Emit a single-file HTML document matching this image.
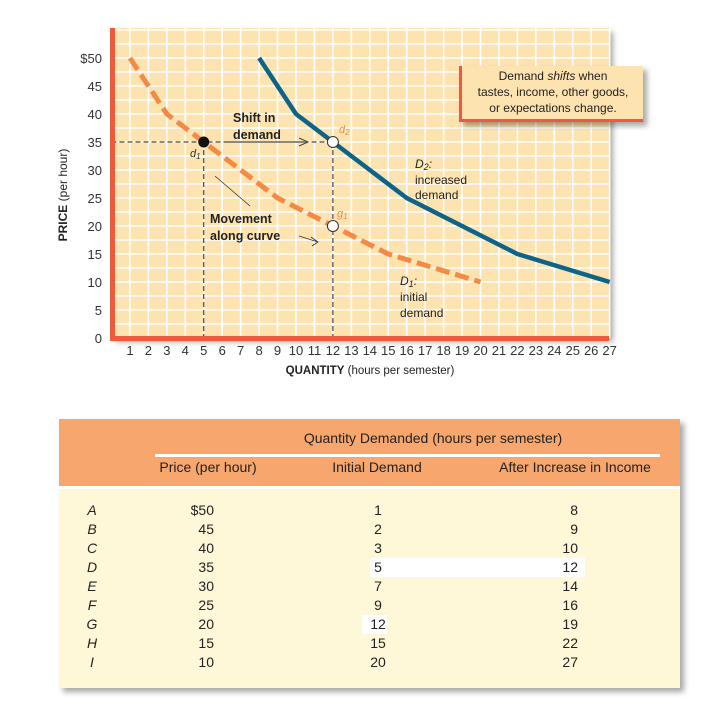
<!DOCTYPE html>
<html><head><meta charset="utf-8"><style>
body{margin:0;width:712px;height:704px;background:#fff;overflow:hidden;font-family:"Liberation Sans",sans-serif}
svg{position:absolute;left:0;top:0}
.t{font-family:"Liberation Sans Narrow","Liberation Sans",sans-serif;fill:#222;font-size:14px}
</style></head><body>
<svg width="712" height="704">
<defs><filter id="sh" x="-5%" y="-5%" width="115%" height="120%"><feDropShadow dx="4" dy="4" stdDeviation="3" flood-color="#000" flood-opacity="0.35"/></filter></defs>
<rect x="112" y="28" width="497" height="310" fill="#fde3b0" filter="url(#sh)"/>
<g id="grid"></g>
<g id="marks"></g>
<rect x="110" y="28" width="5" height="312" fill="#ef5a3c"/>
<rect x="110" y="336" width="499" height="5" fill="#ef5a3c"/>
<g id="ticks" font-size="13" fill="#333"></g>
<text x="62" y="190" transform="rotate(-90 67 190)" font-size="12" fill="#222" text-anchor="middle"><tspan font-weight="bold">PRICE</tspan> (per hour)</text>
<text x="370" y="374" font-size="11.5" fill="#222" text-anchor="middle"><tspan font-weight="bold">QUANTITY</tspan> (hours per semester)</text>
<g>
<rect x="459" y="66" width="184" height="56" fill="#fde3b0" filter="url(#sh)"/>
<rect x="459" y="66" width="3" height="56" fill="#ef5a3c"/><rect x="459" y="119" width="184" height="3" fill="#ef5a3c"/>
<text font-size="12" fill="#222" text-anchor="middle"><tspan x="553" y="80">Demand <tspan font-style="italic">shifts</tspan> when</tspan><tspan x="553" y="96">tastes, income, other goods,</tspan><tspan x="553" y="112">or expectations change.</tspan></text>
</g>
<text font-size="12.5" font-weight="bold" fill="#222"><tspan x="233" y="122">Shift in</tspan><tspan x="233" y="139">demand</tspan></text>
<line x1="227" y1="142" x2="306" y2="142" stroke="#888" stroke-width="2"/>
<path d="M299 138 L308 142 L299 146" fill="none" stroke="#444" stroke-width="1"/>
<text font-size="12.5" font-weight="bold" fill="#222"><tspan x="210" y="223">Movement</tspan><tspan x="210" y="240">along curve</tspan></text>
<line x1="215" y1="176" x2="250" y2="206" stroke="#333" stroke-width="0.8"/>
<path d="M299 236 L318 242 M311 237 L318 242 L312 246" fill="none" stroke="#333" stroke-width="0.8"/>
<text x="190" y="157" font-size="11" font-style="italic" fill="#333">d<tspan font-size="8" dy="2">1</tspan></text>
<text x="339" y="133" font-size="11" font-style="italic" fill="#f08a4b">d<tspan font-size="8" dy="2">2</tspan></text>
<text x="337" y="217" font-size="11" font-style="italic" fill="#f08a4b">g<tspan font-size="8" dy="2">1</tspan></text>
<text font-size="12" fill="#222"><tspan x="415" y="168" font-style="italic">D<tspan font-size="9" dy="2">2</tspan><tspan dy="-2">:</tspan></tspan><tspan x="415" y="184">increased</tspan><tspan x="415" y="199">demand</tspan></text>
<text font-size="12" fill="#222"><tspan x="400" y="285" font-style="italic">D<tspan font-size="9" dy="2">1</tspan><tspan dy="-2">:</tspan></tspan><tspan x="400" y="301">initial</tspan><tspan x="400" y="317">demand</tspan></text>

<g>
<rect x="59" y="419" width="621" height="269" fill="#fef8d8" filter="url(#sh)"/>
<rect x="59" y="419" width="621" height="67" fill="#f7a66d"/>
<rect x="59" y="486" width="621" height="3" fill="#fff"/>
<text x="433" y="443" class="t" text-anchor="middle">Quantity Demanded (hours per semester)</text>
<rect x="155" y="454" width="505" height="3" fill="#fff"/>
<text x="208" y="472" class="t" text-anchor="middle">Price (per hour)</text>
<text x="377" y="472" class="t" text-anchor="middle">Initial Demand</text>
<text x="575" y="472" class="t" text-anchor="middle">After Increase in Income</text>
<rect x="370" y="558" width="215" height="19" fill="#fff"/>
<rect x="362" y="615" width="25" height="19" fill="#fff"/>
<g id="rows"></g>
</g>
</svg>
<script>
const d1Q=[1,2,3,5,7,9,12,15,20];
const d2Q=[8,9,10,12,14,16,19,22,27];
const prices=[50,45,40,35,30,25,20,15,10];
const rowLetters=["A","B","C","D","E","F","G","H","I"];
const yTicks=[0,5,10,15,20,25,30,35,40,45,50];
const xTicks=[1,2,3,4,5,6,7,8,9,10,11,12,13,14,15,16,17,18,19,20,21,22,23,24,25,26,27];
const NS="http://www.w3.org/2000/svg";
const X=q=>111.5+q*18.45, Y=p=>338-p*5.6;
function mk(t,a,p){const e=document.createElementNS(NS,t);for(const k in a)e.setAttribute(k,a[k]);(p||document.getElementById('marks')).appendChild(e);return e;}
const g=document.getElementById('grid');
for(let q=1;q<=27;q++){const l=mk('line',{x1:X(q),x2:X(q),y1:28,y2:338,stroke:'#fff','stroke-width':1.6},g);

}
for(let p=2.5;p<=55;p+=2.5){const l=mk('line',{x1:112,x2:609,y1:Y(p),y2:Y(p),stroke:'#fff','stroke-width':1.6},g);

}
const tk=document.getElementById('ticks');
yTicks.forEach(v=>{const t=mk('text',{x:102,y:Y(v)+5,'text-anchor':'end'},tk);t.textContent=(v==50?'$':'')+v;

});
xTicks.forEach(v=>{const t=mk('text',{x:X(v),y:355,'text-anchor':'middle'},tk);t.textContent=v;

});
const gd=[[X(0),Y(35),X(12),Y(35)],[X(5),Y(35),X(5),Y(0)],[X(12),Y(35),X(12),Y(0)]];
gd.forEach(a=>{const l=mk('line',{x1:a[0],y1:a[1],x2:a[2],y2:a[3],stroke:'#222','stroke-width':1,'stroke-dasharray':'5,3'});

});
const pts=(qs)=>qs.map((q,i)=>X(q)+','+Y(prices[i])).join(' ');
const c2=mk('polyline',{points:pts(d2Q),fill:'none',stroke:'#0e6389','stroke-width':4.5,'stroke-linejoin':'round'});


const c1=mk('polyline',{points:pts(d1Q),fill:'none',stroke:'#f58a45','stroke-width':5,'stroke-dasharray':'14,6'});


const p1=mk('circle',{cx:X(d1Q[3]),cy:Y(prices[3]),r:5.5,fill:'#111'});


const p2=mk('circle',{cx:X(d2Q[3]),cy:Y(prices[3]),r:5.5,fill:'#fff',stroke:'#333','stroke-width':1});


const p3=mk('circle',{cx:X(d1Q[6]),cy:Y(prices[6]),r:5.5,fill:'#fff',stroke:'#333','stroke-width':1});


const rows=document.getElementById('rows');
rowLetters.forEach((r,i)=>{const y=515+i*19;
const a=mk('text',{x:92,y:y,class:'t','font-style':'italic','text-anchor':'middle'},rows);a.textContent=r;


const b=mk('text',{x:214,y:y,class:'t','text-anchor':'end'},rows);b.textContent=(i==0?'$':'')+prices[i];


const c=mk('text',{x:378,y:y,class:'t','text-anchor':'middle'},rows);c.textContent=d1Q[i];


const d=mk('text',{x:578,y:y,class:'t','text-anchor':'end'},rows);d.textContent=d2Q[i];

});
</script>
</body></html>
